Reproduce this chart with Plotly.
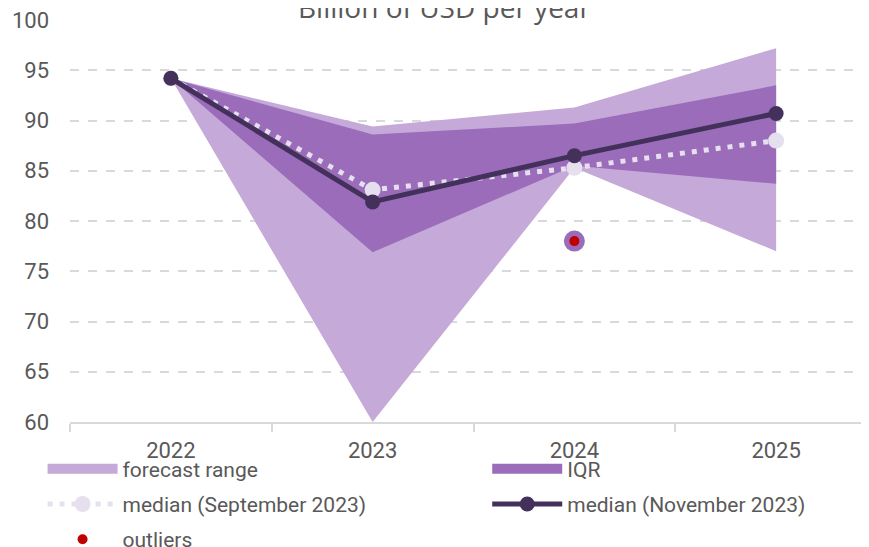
import plotly.graph_objects as go

years = ["2022", "2023", "2024", "2025"]
range_max = [94.2, 89.4, 91.3, 97.2]
range_min = [94.2, 60.0, 85.3, 77.0]
iqr_max = [94.2, 88.6, 89.7, 93.5]
iqr_min = [94.2, 76.9, 85.5, 83.7]
median_sep = [94.2, 83.1, 85.3, 88.0]
median_nov = [94.2, 81.9, 86.5, 90.7]
outlier_year = ["2024"]
outlier_val = [78.0]
y_ticks = [60, 65, 70, 75, 80, 85, 90, 95, 100]

C_RANGE = "#C5A9D8"
C_IQR = "#9A6CBA"
C_NOV = "#43315B"
C_SEP = "#E6DFEE"
C_OUT = "#C00000"
FONT = "Roboto, sans-serif"

fig = go.Figure()
fig.add_trace(go.Scatter(
    x=years + years[::-1], y=range_max + range_min[::-1],
    fill="toself", fillcolor=C_RANGE, mode="none", line=dict(width=0),
    showlegend=False, legendgroup="a"))
fig.add_trace(go.Scatter(
    x=years + years[::-1], y=iqr_max + iqr_min[::-1],
    fill="toself", fillcolor=C_IQR, mode="none", line=dict(width=0),
    showlegend=False, legendgroup="b"))
# legend swatches for the two bands
fig.add_trace(go.Scatter(x=[None], y=[None], mode="lines", name="forecast range",
                         line=dict(color=C_RANGE, width=17), legend="legend", legendgroup="a"))
fig.add_trace(go.Scatter(x=[None], y=[None], mode="lines", name="IQR",
                         line=dict(color=C_IQR, width=17), legend="legend2", legendgroup="b"))
fig.add_trace(go.Scatter(
    x=years, y=median_sep, mode="lines+markers", name="median (September 2023)",
    line=dict(color=C_SEP, width=5, dash="5px,7px"),
    marker=dict(color=C_SEP, size=16), legend="legend", legendgroup="c"))
fig.add_trace(go.Scatter(
    x=years, y=median_nov, mode="lines+markers", name="median (November 2023)",
    line=dict(color=C_NOV, width=5),
    marker=dict(color=C_NOV, size=15), legend="legend2", legendgroup="d"))
fig.add_trace(go.Scatter(
    x=outlier_year, y=outlier_val, mode="markers", showlegend=False,
    marker=dict(color=C_IQR, size=21), hoverinfo="skip"))
fig.add_trace(go.Scatter(
    x=outlier_year, y=outlier_val, mode="markers", name="outliers",
    marker=dict(color=C_OUT, size=10), legend="legend", legendgroup="e"))

leg_common = dict(orientation="v", yanchor="top", xanchor="left", tracegroupgap=5,
                  itemwidth=70, bgcolor="rgba(0,0,0,0)", traceorder="grouped",
                  font=dict(family=FONT, size=21, color="#595959"))

fig.update_layout(
    width=869, height=547,
    margin=dict(l=62, r=0, t=12, b=133, autoexpand=False),
    plot_bgcolor="white", paper_bgcolor="white",
    font=dict(family=FONT, size=22, color="#595959"),
    showlegend=True,
    legend=dict(x=-0.034, y=-0.066, **leg_common),
    legend2=dict(x=0.517, y=-0.066, **leg_common),
    annotations=[dict(text="Billion of USD per year", xref="paper", yref="paper",
                      x=0.464, y=1.032, xanchor="center", yanchor="middle",
                      showarrow=False,
                      font=dict(family="Open Sans, sans-serif", size=28, color="#595959"))],
)
fig.update_xaxes(type="category", categoryorder="array", categoryarray=years,
                 range=[-0.5, 3.5], showgrid=False, showline=True, linecolor="#D9D9D9",
                 linewidth=1.5, ticks="outside", tickson="boundaries", ticklen=8,
                 tickcolor="#D9D9D9", tickwidth=1.5, ticklabelstandoff=8)
fig.update_yaxes(range=[60, 100], tickvals=y_ticks, showgrid=True, gridcolor="#D9D9D9",
                 griddash="dash", gridwidth=1.5, zeroline=False, showline=False,
                 ticklabelstandoff=20, ticklabeloverflow="allow")

fig.write_html("out.html")
